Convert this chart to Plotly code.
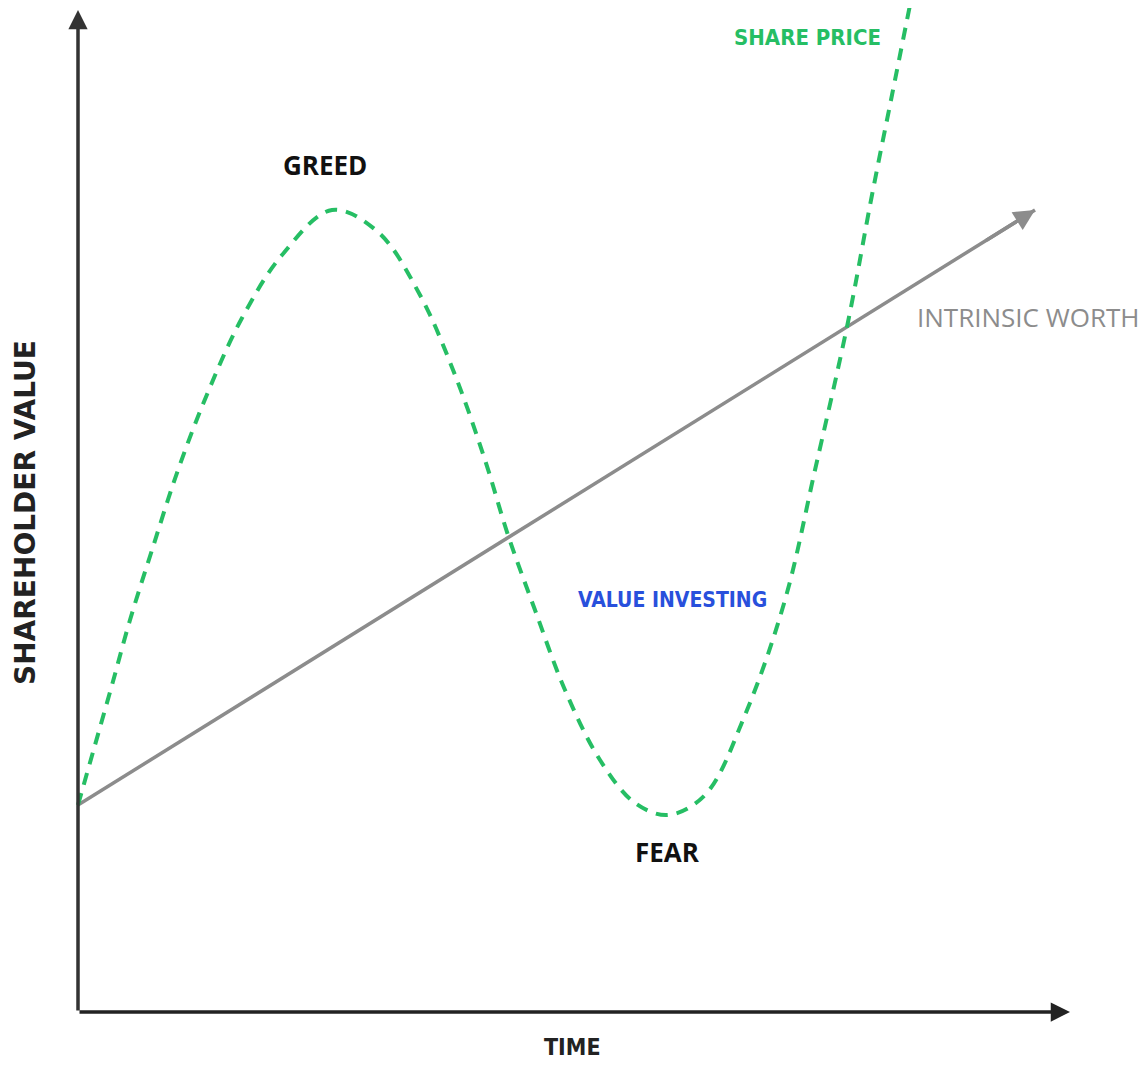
import plotly.graph_objects as go

# Data (abstract units: time on x, shareholder value on y)
time_pts = [0, 0.17, 0.34, 0.52, 0.74, 1.0, 1.30, 1.64, 2.04, 2.54, 3.0, 3.42, 3.77, 4.07,
            4.30, 4.57, 4.87, 5.22, 5.57, 5.90, 6.27, 6.67, 7.07, 7.37, 7.70, 7.94, 8.14, 8.32]
share_price = [2.07, 2.67, 3.27, 3.92, 4.62, 5.42, 6.20, 6.94, 7.57, 8.02, 7.80, 7.17, 6.37, 5.52,
               4.77, 4.02, 3.22, 2.52, 2.09, 1.97, 2.17, 2.97, 4.12, 5.42, 6.90, 8.17, 9.17, 10.07]
intrinsic_time = [0, 9.57]
intrinsic_worth = [2.07, 8.02]
axis_max_time = 9.92
axis_max_value = 10.0

GREEN = "rgb(38,190,100)"
GRAY = "rgb(140,140,140)"

fig = go.Figure()
fig.add_trace(go.Scatter(x=intrinsic_time, y=intrinsic_worth, mode="lines",
                         line=dict(color=GRAY, width=3.5), hoverinfo="skip"))
fig.add_trace(go.Scatter(x=time_pts, y=share_price, mode="lines",
                         line=dict(color=GREEN, width=4, dash="12px,9px", shape="spline", smoothing=1),
                         hoverinfo="skip"))

ann = []
# axes arrows
ann.append(dict(x=0, y=axis_max_value + 0.02, ax=0, ay=0, xref="x", yref="y", axref="x", ayref="y",
                showarrow=True, arrowhead=2, arrowsize=1.1, arrowwidth=3.5, arrowcolor="#333", text=""))
ann.append(dict(x=axis_max_time, y=0, ax=0, ay=0, xref="x", yref="y", axref="x", ayref="y",
                showarrow=True, arrowhead=2, arrowsize=1.1, arrowwidth=3.5, arrowcolor="#222", text=""))
# intrinsic arrowhead
slope = (intrinsic_worth[1] - intrinsic_worth[0]) / (intrinsic_time[1] - intrinsic_time[0])
ann.append(dict(x=intrinsic_time[1], y=intrinsic_worth[1],
                ax=intrinsic_time[1] - 0.5, ay=intrinsic_worth[1] - 0.5 * slope,
                xref="x", yref="y", axref="x", ayref="y",
                showarrow=True, arrowhead=2, arrowsize=1.2, arrowwidth=3.5, arrowcolor=GRAY, text=""))

def label(x, y, text, color, size, family, xanchor="center"):
    ann.append(dict(x=x, y=y, xref="x", yref="y", text=text, showarrow=False, xanchor=xanchor,
                    yanchor="middle", font=dict(color=color, size=size, family=family)))

cond = "DejaVu Sans Condensed, Liberation Sans Narrow, Open Sans"
label(7.29, 9.75, "<b>SHARE PRICE</b>", GREEN, 22, cond)
label(2.47, 8.47, "<b>GREED</b>", "#111", 26, "Open Sans")
label(8.37, 6.95, "INTRINSIC WORTH", GRAY, 26, "Open Sans", xanchor="left")
label(5.94, 4.12, "<b>VALUE INVESTING</b>", "rgb(40,80,220)", 21, cond)
label(5.89, 1.60, "<b>FEAR</b>", "#111", 26, "Open Sans")
label(4.94, -0.35, "<b>TIME</b>", "#222", 23, cond)
ann.append(dict(x=-0.53, y=4.99, xref="x", yref="y", text="<b>SHAREHOLDER VALUE</b>", showarrow=False,
                textangle=-90, font=dict(color="#222", size=28, family="DejaVu Sans")))

# page body has an 8px margin; size the figure so the origin lands where the reference has it
fig.update_layout(
    width=1130, height=1052, margin=dict(l=0, r=0, t=0, b=0),
    paper_bgcolor="white", plot_bgcolor="white", showlegend=False,
    xaxis=dict(range=[-0.70, 10.60], visible=False, fixedrange=True),
    yaxis=dict(range=[-0.48, 10.04], visible=False, fixedrange=True),
    annotations=ann,
)
fig.write_html("out.html")
